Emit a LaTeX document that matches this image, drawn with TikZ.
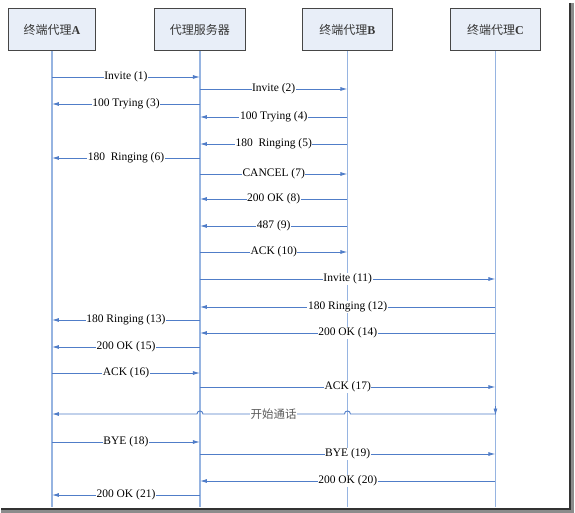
\documentclass[tikz,border=0pt]{standalone}
\usepackage{fontspec}
\setmainfont{Liberation Serif}
\newfontfamily\cjk{Noto Sans CJK SC}
\usetikzlibrary{arrows.meta,calc}
\definecolor{boxfill}{RGB}{232,238,248}
\definecolor{boxborder}{RGB}{70,70,70}
\definecolor{hdrtext}{RGB}{55,55,55}
\definecolor{lifeblue}{RGB}{150,180,225}
\definecolor{msgblue}{RGB}{80,125,200}
\definecolor{talkgray}{RGB}{90,90,90}
\newcommand\sipmsg[4]{\draw[msg] (#1.south |- 0,#3) -- node[lbl]{#4} (#2.south |- 0,#3);}
\begin{document}
\begin{tikzpicture}[x=1pt,y=-1pt,
  hdr/.style={draw=boxborder, fill=boxfill, line width=0.9pt, minimum height=42pt, inner sep=0pt, anchor=north west, text=hdrtext, font=\fontsize{12}{14}\selectfont},
  life/.style={draw=lifeblue, line width=1.2pt},
  msgline/.style={draw=msgblue, line width=0.9pt},
  msg/.style={msgline, -{Latex[length=7pt,width=4pt]}},
  lbl/.style={fill=white, inner sep=0.6pt, text=black, font=\fontsize{11.5}{12}\selectfont}
]
\fill[white] (0,0) rectangle (575,513);
\useasboundingbox (0,0) rectangle (575,513);

% frame shadow
\draw[color=black!45, line width=4pt] (572,3) -- (572,510.5) -- (1,510.5);
\draw[color=black!80, line width=2pt] (570,3) -- (570,508.5) -- (1,508.5);

% header boxes
\node[hdr, minimum width=87pt] (A) at (8,8) {{\cjk 终端代理}\textbf{A}};
\node[hdr, minimum width=91pt] (S) at (154,8) {\cjk 代理服务器};
\node[hdr, minimum width=90pt] (B) at (302,8) {{\cjk 终端代理}\textbf{B}};
\node[hdr, minimum width=90pt] (C) at (450,8) {{\cjk 终端代理}\textbf{C}};

% lifelines
\foreach \n in {A,S,B,C}{
  \draw[life] (\n.south) -- (\n.south |- 0,507);
}

% messages
\sipmsg{A}{S}{77}{Invite (1)}
\sipmsg{S}{B}{89}{Invite (2)}
\sipmsg{S}{A}{104}{100 Trying (3)}
\sipmsg{B}{S}{117}{100 Trying (4)}
\sipmsg{B}{S}{144}{180\ \ Ringing (5)}
\sipmsg{S}{A}{158}{180\ \ Ringing (6)}
\sipmsg{S}{B}{174}{CANCEL (7)}
\sipmsg{B}{S}{199}{200 OK (8)}
\sipmsg{B}{S}{226}{487 (9)}
\sipmsg{S}{B}{252}{ACK (10)}
\sipmsg{S}{C}{279}{Invite (11)}
\sipmsg{C}{S}{307}{180 Ringing (12)}
\sipmsg{S}{A}{320}{180 Ringing (13)}
\sipmsg{C}{S}{333}{200 OK (14)}
\sipmsg{S}{A}{347}{200 OK (15)}
\sipmsg{A}{S}{373}{ACK (16)}
\sipmsg{S}{C}{387}{ACK (17)}

% talk line with hops
\draw[msgline, {Latex[length=7pt,width=4pt]}-]
  (A.south |- 0,414) -- ($(S.south |- 0,414)+(-3,0)$)
  .. controls ($(S.south |- 0,414)+(-3,-4)$) and ($(S.south |- 0,414)+(3,-4)$) .. ($(S.south |- 0,414)+(3,0)$)
  -- node[lbl, text=talkgray, font=\cjk\fontsize{11.5}{12}\selectfont]{开始通话} ($(B.south |- 0,414)+(-3,0)$)
  .. controls ($(B.south |- 0,414)+(-3,-4)$) and ($(B.south |- 0,414)+(3,-4)$) .. ($(B.south |- 0,414)+(3,0)$)
  -- (C.south |- 0,414);
\draw[msg] (C.south |- 0,406) -- (C.south |- 0,415.5);

\sipmsg{A}{S}{442}{BYE (18)}
\sipmsg{S}{C}{454}{BYE (19)}
\sipmsg{C}{S}{481}{200 OK (20)}
\sipmsg{S}{A}{495}{200 OK (21)}
\end{tikzpicture}
\end{document}
